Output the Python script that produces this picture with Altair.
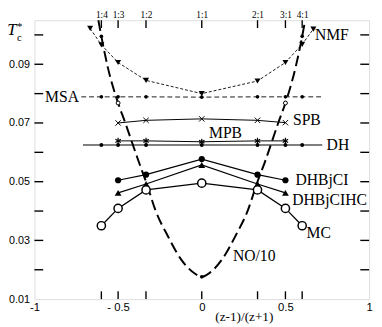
import altair as alt
import pandas as pd

W, H = 342, 285
XDOM = [-1, 1]
YDOM = [0.01, 0.105]

# ---- axis / tick data ----
ratio_x = [-0.6, -0.5, -0.3333, 0.0, 0.3333, 0.5, 0.6]
ratio_labels = ["1:4", "1:3", "1:2", "1:1", "2:1", "3:1", "4:1"]
y_tick_vals = [0.02, 0.03, 0.04, 0.05, 0.06, 0.07, 0.08, 0.09, 0.10]
y_label_vals = [0.01, 0.03, 0.05, 0.07, 0.09]
x_label_vals = [-1, -0.5, 0, 0.5, 1]
x_label_text = ["-1", "- 0.5", "0", "0.5", "1"]

# ---- series ----
nmf_x = [-0.667, -0.6, -0.5, -0.333, 0.0, 0.333, 0.5, 0.6, 0.667]
nmf_y = [0.1022, 0.0966, 0.0906, 0.0845, 0.0800, 0.0843, 0.0906, 0.0968, 0.1020]

msa_x = [-0.6, -0.5, -0.333, 0.0, 0.333, 0.5, 0.6]
msa_y = [0.0789, 0.0789, 0.0789, 0.0788, 0.0789, 0.0789, 0.0789]
msa_ends_x = [-0.72, 0.73]
msa_ends_y = [0.0789, 0.0789]

no_x = [-0.618, -0.6, -0.56, -0.5, -0.46, -0.376, -0.33, -0.277, -0.202, -0.127, -0.046, 0.0,
        0.046, 0.127, 0.202, 0.277, 0.33, 0.376, 0.46, 0.5, 0.56, 0.6, 0.618]
no_y = [0.105, 0.0995, 0.0886, 0.0768, 0.0705, 0.0567, 0.0495, 0.0403, 0.0314, 0.0238, 0.0189, 0.0176,
        0.0189, 0.0240, 0.0316, 0.0405, 0.0495, 0.0565, 0.0705, 0.0768, 0.0888, 0.0995, 0.105]
no_dot_x = [-0.6, 0.0, 0.6]
no_dot_y = [0.0995, 0.0176, 0.0995]
no_ring_x = [-0.5, 0.5]
no_ring_y = [0.0768, 0.0768]

spb_x = [-0.5, -0.333, 0.0, 0.333, 0.5]
spb_y = [0.0700, 0.0709, 0.0714, 0.0709, 0.0701]

mpb_x = [-0.5, -0.333, 0.0, 0.333, 0.5]
mpb_y = [0.0639, 0.0639, 0.0636, 0.0639, 0.0639]

dh_x = [-0.6, -0.5, -0.333, 0.0, 0.333, 0.5, 0.6]
dh_y = [0.0625, 0.0625, 0.0625, 0.0625, 0.0625, 0.0625, 0.0625]
dh_ends_x = [-0.71, 0.72]
dh_ends_y = [0.0625, 0.0625]

ci_x = [-0.5, -0.333, 0.0, 0.333, 0.5]
ci_y = [0.0505, 0.0524, 0.0577, 0.0524, 0.0505]

cihc_x = [-0.5, -0.333, 0.0, 0.333, 0.5]
cihc_y = [0.0462, 0.0492, 0.0557, 0.0492, 0.0462]

mc_x = [-0.6, -0.5, -0.333, 0.0, 0.333, 0.5, 0.6]
mc_y = [0.0350, 0.0409, 0.0472, 0.0495, 0.0472, 0.0409, 0.0350]

lab_text = ["NMF", "MSA", "SPB", "MPB", "DH", "DHBjCI", "DHBjCIHC", "MC", "NO/10"]
lab_x = [0.676, -0.734, 0.545, 0.142, 0.746, 0.56, 0.54, 0.626, 0.186]
lab_y = [0.0999, 0.0788, 0.0709, 0.0666, 0.0626, 0.0505, 0.0436, 0.0324, 0.0245]
lab_align = ["left", "right", "left", "center", "left", "left", "left", "left", "left"]

# ---- helpers ----
xs = alt.Scale(domain=XDOM, nice=False, zero=False)
ys = alt.Scale(domain=YDOM, nice=False, zero=False)
SERIF = "Liberation Serif"
SANS = "Liberation Sans"


def df(x, y):
    return pd.DataFrame({"x": x, "y": y})


def enc(chart):
    return chart.encode(
        x=alt.X("x:Q", scale=xs, axis=None),
        y=alt.Y("y:Q", scale=ys, axis=None),
    )


def line(x, y, **kw):
    return enc(alt.Chart(df(x, y)).mark_line(color="black", clip=False, **kw))


def pts(x, y, **kw):
    return enc(alt.Chart(df(x, y)).mark_point(clip=False, **kw))


CROSS = "M-1,-1L1,1M-1,1L1,-1"
STAR = "M0,-1L0,1M-0.87,-0.5L0.87,0.5M-0.87,0.5L0.87,-0.5"

# inward ticks: left / right
ytick_df = pd.DataFrame({"v": y_tick_vals})
left_ticks = alt.Chart(ytick_df).mark_rule(color="black", strokeWidth=1.4).encode(
    y=alt.Y("v:Q", scale=ys, axis=alt.Axis(
        orient="left", values=y_label_vals, format=".2f", ticks=False, domain=False,
        grid=False, labelFont=SANS, labelFontSize=11, labelColor="black",
        labelPadding=5, labelFlush=False, labelOverlap=False, title=None)),
    x=alt.value(0), x2=alt.value(9))
right_ticks = alt.Chart(ytick_df).mark_rule(color="black", strokeWidth=1.4).encode(
    y=alt.Y("v:Q", scale=ys, axis=None), x=alt.value(W - 9), x2=alt.value(W))

xtick_df = pd.DataFrame({"t": ratio_x, "lab": ratio_labels})
bottom_ticks = alt.Chart(xtick_df).mark_rule(color="black", strokeWidth=1.4).encode(
    x=alt.X("t:Q", scale=xs, axis=alt.Axis(
        orient="bottom", values=x_label_vals,
        labelExpr="datum.value == -1 ? '-1' : datum.value == -0.5 ? '- 0.5' : datum.value == 0 ? '0' : datum.value == 0.5 ? '0.5' : '1'",
        ticks=False, domain=False, grid=False, labelFont=SANS, labelFontSize=11.5,
        labelColor="black", labelPadding=3, labelFlush=False, labelOverlap=False,
        title="(z-1)/(z+1)", titleFont=SERIF, titleFontSize=13.5, titleFontWeight="normal",
        titleColor="black", titleX=214, titleY=22, titleAlign="center",
        titleBaseline="alphabetic")),
    y=alt.value(H - 8), y2=alt.value(H))
top_ticks = alt.Chart(xtick_df).mark_rule(color="black", strokeWidth=1.4).encode(
    x=alt.X("t:Q", scale=xs, axis=alt.Axis(
        orient="top", values=ratio_x,
        labelExpr="datum.value < -0.55 ? '1:4' : datum.value < -0.4 ? '1:3' : datum.value < -0.2 ? '1:2' : datum.value < 0.2 ? '1:1' : datum.value < 0.4 ? '2:1' : datum.value < 0.55 ? '3:1' : '4:1'",
        ticks=False, domain=False, grid=False, labelFont=SERIF, labelFontSize=9.5,
        labelColor="black", labelPadding=1, labelFlush=False, labelOverlap=False, title=None)),
    y=alt.value(0), y2=alt.value(8))

# NO/10 thick dashed curve
no_line = line(no_x, no_y, strokeWidth=2, strokeDash=[11, 5], interpolate="monotone")
no_dots = pts(no_dot_x, no_dot_y, filled=True, color="black", size=14, opacity=1)
no_rings = pts(no_ring_x, no_ring_y, filled=True, fill="white", stroke="black",
               strokeWidth=1, size=16, opacity=1)

# NMF
nmf_line = line(nmf_x, nmf_y, strokeWidth=0.9, strokeDash=[3, 2])
nmf_pts = pts(nmf_x, nmf_y, shape="triangle-down", filled=True, color="black", size=38, opacity=1)

# MSA
msa_line = line(msa_ends_x[:1] + msa_x + msa_ends_x[1:], msa_ends_y[:1] + msa_y + msa_ends_y[1:],
                strokeWidth=0.9, strokeDash=[5, 3])
msa_pts = pts(msa_x, msa_y, filled=True, color="black", size=14, opacity=1)

# SPB
spb_line = line(spb_x, spb_y, strokeWidth=1)
spb_pts = pts(spb_x, spb_y, shape=CROSS, filled=False, color="black", strokeWidth=1, size=30, opacity=1)

# MPB
mpb_line = line(mpb_x, mpb_y, strokeWidth=1)
mpb_pts = pts(mpb_x, mpb_y, shape=STAR, filled=False, color="black", strokeWidth=1.2, size=40, opacity=1)

# DH
dh_line = line(dh_ends_x[:1] + dh_x + dh_ends_x[1:], dh_ends_y[:1] + dh_y + dh_ends_y[1:], strokeWidth=1.2)
dh_pts = pts(dh_x, dh_y, filled=True, color="black", size=16, opacity=1)

# DHBjCI
ci_line = line(ci_x, ci_y, strokeWidth=1.2)
ci_pts = pts(ci_x, ci_y, filled=True, color="black", size=40, opacity=1)

# DHBjCIHC
cihc_line = line(cihc_x, cihc_y, strokeWidth=1.2)
cihc_pts = pts(cihc_x, cihc_y, shape="triangle-up", filled=True, color="black", size=48, opacity=1)

# MC
mc_line = line(mc_x, mc_y, strokeWidth=1.3)
mc_pts = pts(mc_x, mc_y, filled=True, fill="white", stroke="black", strokeWidth=1.5, size=70, opacity=1)

# series labels
lab_df = pd.DataFrame({"x": lab_x, "y": lab_y, "t": lab_text, "a": lab_align})
labels = []
for al in ["left", "right", "center"]:
    labels.append(alt.Chart(lab_df[lab_df["a"] == al]).mark_text(
        font=SERIF, fontSize=16, align=al, baseline="middle", color="black", clip=False
    ).encode(x=alt.X("x:Q", scale=xs, axis=None), y=alt.Y("y:Q", scale=ys, axis=None), text="t:N"))

# y title T*_c
tc_df = pd.DataFrame({"x": [-1.135, -1.088, -1.09], "y": [0.1016, 0.1026, 0.0990],
                      "t": ["T", "*", "c"], "s": ["T", "star", "c"]})
tc_T = alt.Chart(tc_df[tc_df["s"] == "T"]).mark_text(
    font=SERIF, fontSize=17, fontStyle="italic", align="center", baseline="middle", color="black", clip=False
).encode(x=alt.X("x:Q", scale=xs, axis=None), y=alt.Y("y:Q", scale=ys, axis=None), text="t:N")
tc_star = alt.Chart(tc_df[tc_df["s"] == "star"]).mark_text(
    font=SERIF, fontSize=11, align="center", baseline="middle", color="black", clip=False
).encode(x=alt.X("x:Q", scale=xs, axis=None), y=alt.Y("y:Q", scale=ys, axis=None), text="t:N")
tc_c = alt.Chart(tc_df[tc_df["s"] == "c"]).mark_text(
    font=SERIF, fontSize=11, align="center", baseline="middle", color="black", clip=False
).encode(x=alt.X("x:Q", scale=xs, axis=None), y=alt.Y("y:Q", scale=ys, axis=None), text="t:N")

chart = alt.layer(
    bottom_ticks, top_ticks, left_ticks, right_ticks,
    no_line, nmf_line, msa_line, spb_line, mpb_line, dh_line, ci_line, cihc_line, mc_line,
    nmf_pts, msa_pts, spb_pts, mpb_pts, dh_pts, ci_pts, cihc_pts, mc_pts,
    no_dots, no_rings,
    *labels, tc_T, tc_star, tc_c,
).resolve_axis(x="independent", y="independent").properties(
    width=W, height=H,
    autosize=alt.AutoSizeParams(type="none"),
    padding={"left": 27, "top": 9, "right": 5, "bottom": 25},
).configure_view(stroke="black", strokeWidth=1.6).configure(background="white")

chart.save("out.html", embed_options={"renderer": "svg", "actions": False})
